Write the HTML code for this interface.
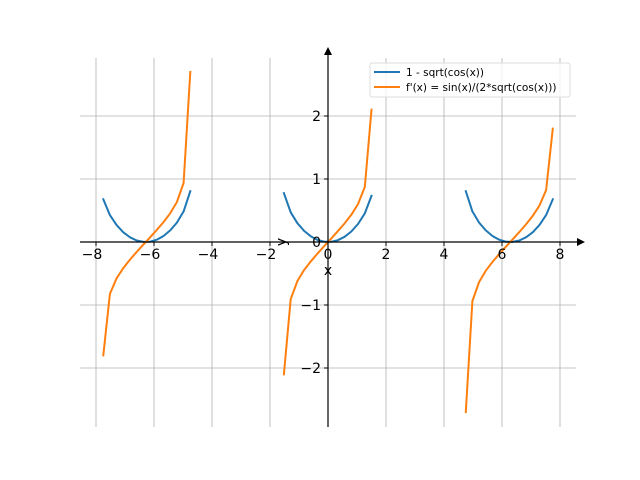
<!DOCTYPE html>
<html><head><meta charset="utf-8"><style>
html,body{margin:0;padding:0;background:#fff;width:640px;height:480px;overflow:hidden}
text{font-family:"DejaVu Sans","Liberation Sans",sans-serif}
</style></head><body>
<svg id="s" width="640" height="480" viewBox="0 0 640 480" xmlns="http://www.w3.org/2000/svg">
<g id="grid" stroke="#b0b0b0" stroke-width="0.8"></g>
<g id="curves" fill="none" stroke-width="2" stroke-linejoin="round" stroke-linecap="square"></g>
<line x1="80" y1="242" x2="580" y2="242" stroke="#000" stroke-width="1.2"/>
<polygon points="585,242 577,238 577,246" fill="#000"/>
<line x1="328" y1="427" x2="328" y2="53" stroke="#000" stroke-width="1.2"/>
<polygon points="328,47 324,55 332,55" fill="#000"/>
<g id="ticks" font-size="14" fill="#000"></g>
<text x="328" y="275" font-size="14" text-anchor="middle">x</text>
<text x="0" y="0" font-size="14" text-anchor="middle" transform="translate(286,242) rotate(-90)">y</text>
<rect x="370" y="63" width="200" height="34" fill="#fff" fill-opacity="0.8" stroke="#ddd" rx="2"/>
<line x1="374" y1="72" x2="400" y2="72" stroke="#1f77b4" stroke-width="2"/>
<line x1="374" y1="87" x2="400" y2="87" stroke="#ff7f0e" stroke-width="2"/>
<text x="406" y="76" font-size="10.5">1 - sqrt(cos(x))</text>
<text x="406" y="91" font-size="10.5">f'(x) = sin(x)/(2*sqrt(cos(x)))</text>
</svg>
<script>
var NS="http://www.w3.org/2000/svg";
function X(v){return 328+v*29;} function Y(v){return 242-v*63;}
function el(p,t,a,txt){var e=document.createElementNS(NS,t);for(var k in a)e.setAttribute(k,a[k]);if(txt!==undefined)e.textContent=txt;document.getElementById(p).appendChild(e);}
for(var v=-8;v<=8;v+=2){el("grid","line",{x1:X(v),x2:X(v),y1:58,y2:427});}
for(var v=-2;v<=2;v++){if(v)el("grid","line",{x1:80,x2:576,y1:Y(v),y2:Y(v)});}
for(var v=-8;v<=8;v+=2){el("ticks","line",{x1:X(v),x2:X(v),y1:242,y2:246,stroke:"#000"});
 el("ticks","text",{x:X(v)-(v<0?4:0),y:259,"text-anchor":"middle"},(v<0?"\u2212":"")+Math.abs(v));}
for(var v=-2;v<=2;v++){el("ticks","line",{x1:324,x2:328,y1:Y(v),y2:Y(v),stroke:"#000"});
 el("ticks","text",{x:321,y:Y(v)+5,"text-anchor":"end"},(v<0?"\u2212":"")+Math.abs(v));}
var ivs=[[-7.75,-4.75,-1.8,2.7],[-1.52,1.5,-2.1,2.1],[4.75,7.75,-2.7,1.8]];
ivs.forEach(function(iv){var n=14,a="",b="";
 for(var i=0;i<n;i++){var x=iv[0]+(iv[1]-iv[0])*i/(n-1);var c=Math.max(Math.cos(x),1e-3);
  var f=1-Math.sqrt(c),d=Math.sin(x)/(2*Math.sqrt(c));
  if(i==0)d=iv[2]; if(i==n-1)d=iv[3];
  a+=(i?"L":"M")+X(x).toFixed(1)+","+Y(f).toFixed(1);
  b+=(i?"L":"M")+X(x).toFixed(1)+","+Y(d).toFixed(1);}
 el("curves","path",{d:a,stroke:"#1f77b4"});el("curves","path",{d:b,stroke:"#ff7f0e"});});
</script>
</body></html>
